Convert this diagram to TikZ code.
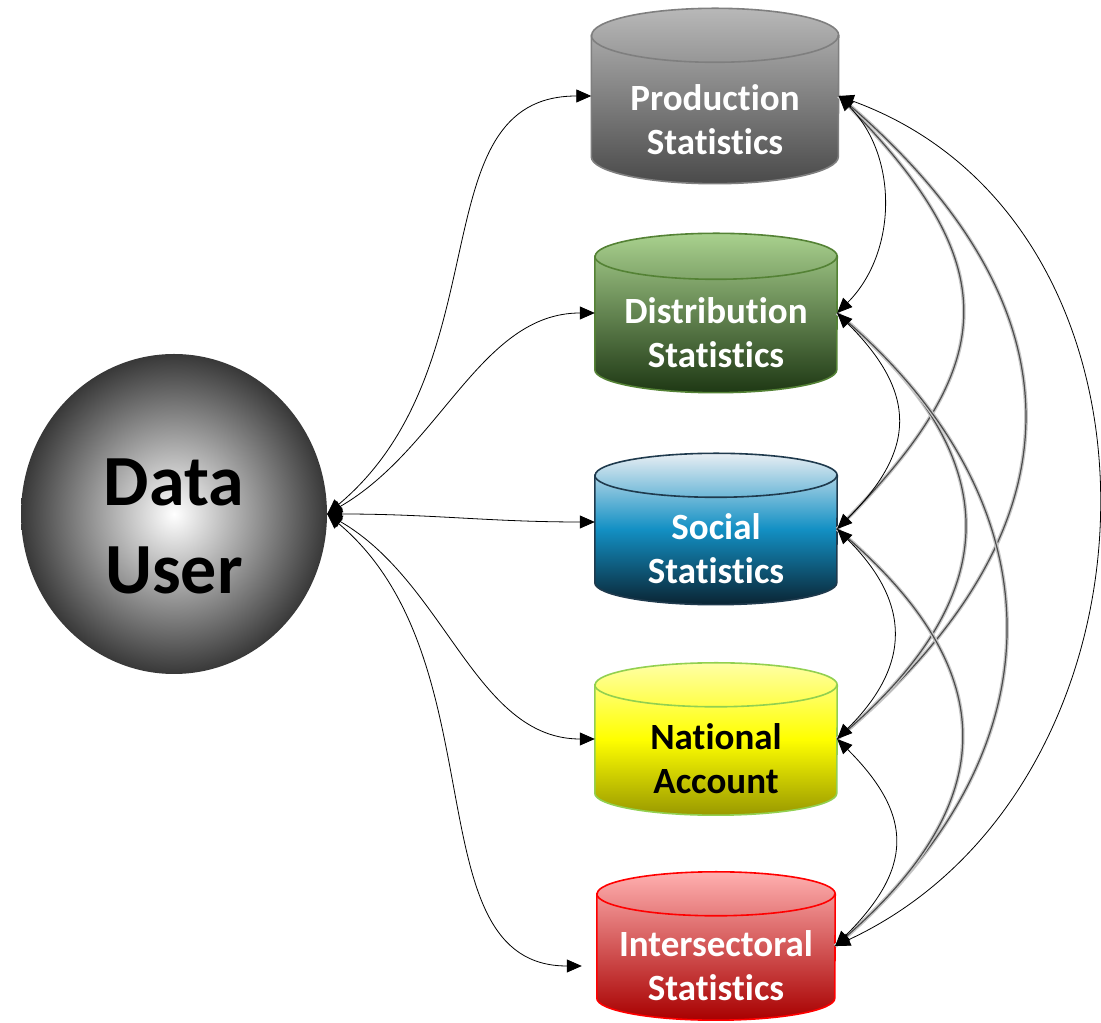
\documentclass[tikz,border=0pt]{standalone}
\usepackage{fontspec}
\setmainfont{Carlito}[Ligatures=CommonOff]
\usetikzlibrary{shapes.geometric,arrows.meta}

\definecolor{prodtop}{HTML}{B8B8B8}
\definecolor{prodbot}{HTML}{4A4A4A}
\definecolor{prodline}{HTML}{7F7F7F}
\definecolor{disttop}{HTML}{A9D18E}
\definecolor{distbot}{HTML}{1E3814}
\definecolor{distline}{HTML}{548235}
\definecolor{soctop}{HTML}{E8EEF3}
\definecolor{socmid}{HTML}{1390C4}
\definecolor{socbot}{HTML}{0A2433}
\definecolor{socline}{HTML}{1F3A4D}
\definecolor{nattop}{HTML}{FFFFA6}
\definecolor{natmid}{HTML}{FFFF00}
\definecolor{natbot}{HTML}{999900}
\definecolor{natline}{HTML}{92D050}
\definecolor{intertop}{HTML}{FFB0B0}
\definecolor{interbot}{HTML}{A80000}
\definecolor{interline}{HTML}{FF0000}

% #1 node, #2 x radius, #3 y radius, #4 shading, #5 line colour
\newcommand{\dbdraw}[5]{%
  \shade[#4,draw=#5,line width=1.6pt] ([yshift=-#3]#1.north west) -- ([yshift=#3]#1.south west)
    arc[start angle=180,end angle=360,x radius=#2,y radius=#3]
    -- ([yshift=-#3]#1.north east)
    arc[start angle=0,end angle=180,x radius=#2,y radius=#3] -- cycle;
  \draw[draw=#5,line width=1.6pt] ([yshift=-#3]#1.north west)
    arc[start angle=180,end angle=360,x radius=#2,y radius=#3];
}

\begin{document}
\begin{tikzpicture}[x=1pt,y=1pt,
    db/.style={rectangle,inner sep=0pt,minimum width=242},
    dbtext/.style={font=\bfseries\fontsize{37}{44}\selectfont,align=center,text=white},
    link/.style={draw,line width=0.8pt,<->,>={Triangle[length=15pt,width=13pt]}},
    faint/.style={draw=black!70,line width=1.2pt,preaction={draw=black!22,line width=3.8pt}}]

        \useasboundingbox (0,0) rectangle (1101,1023);

        \node[ellipse,minimum width=306,minimum height=320,inner color=white,outer color=black!78] (user) at (174,509) {};
        \node[font=\bfseries\fontsize{72}{88}\selectfont,align=center] (user-t) at ([yshift=-12]user.center) {Data\\User};

        \begin{scope}[every node/.style={db}]
          \node[minimum height=175,minimum width=247] (prod) at (715,927) {};
          \node[minimum height=159] (dist) at (716,710) {};
          \node[minimum height=151] (soc) at (716,494) {};
          \node[minimum height=152] (nat) at (716,284) {};
          \node[minimum height=148,minimum width=238] (inter) at (716,77) {};
        \end{scope}

        \dbdraw{prod}{123.5}{27}{top color=prodtop,bottom color=prodbot}{prodline}
        \dbdraw{dist}{121}{23}{top color=disttop,bottom color=distbot}{distline}
        \dbdraw{soc}{121}{22}{top color=soctop,bottom color=socbot,middle color=socmid}{socline}
        \dbdraw{nat}{121}{22}{top color=nattop,bottom color=natbot,middle color=natmid}{natline}
        \dbdraw{inter}{119}{22}{top color=intertop,bottom color=interbot}{interline}

        \begin{scope}[every node/.style={dbtext}]
          \node (prod-t)  at ([yshift=-24]prod.center)  {Production\\Statistics};
          \node (dist-t)  at ([yshift=-20]dist.center)  {Distribution\\Statistics};
          \node (soc-t)   at ([yshift=-20]soc.center)   {Social\\Statistics};
          \node[text=black] (nat-t) at ([yshift=-20]nat.center) {National\\Account};
          \node (inter-t) at ([yshift=-20]inter.center) {Intersectoral\\Statistics};
        \end{scope}

        \begin{scope}[every edge/.style={faint}]
          \path (soc.east)   edge[out=45,in=-45,looseness=1.4]  (prod.east);
          \path (nat.east)   edge[out=40,in=-40,looseness=1.3]  (prod.east);
          \path (nat.east)   edge[out=40,in=-40,looseness=1.35] (dist.east);
          \path (inter.east) edge[out=40,in=-40,looseness=1.2]  (dist.east);
          \path (inter.east) edge[out=40,in=-40,looseness=1.35] (soc.east);
        \end{scope}

        \begin{scope}[every edge/.style={link}]
          \path (user.east) edge[out=40,in=180,out looseness=1.2,in looseness=0.9] (prod.west);
          \path (user.east) edge[out=30,in=180,in looseness=0.87] (dist.west);
          \path (user.east) edge[out=0,in=180] ([yshift=7]soc.west);
          \path (user.east) edge[out=-30,in=180,in looseness=0.87] (nat.west);
          \path (user.east) edge[out=-40,in=180,out looseness=1.1,in looseness=0.9,shorten >=15pt] ([yshift=-20]inter.west);

          \path (dist.east)  edge[out=45,in=-45,looseness=1.0]  (prod.east);
          \path (soc.east)   edge[out=45,in=-45,looseness=1.34] (dist.east);
          \path (nat.east)   edge[out=45,in=-45,looseness=1.28] (soc.east);
          \path (inter.east) edge[out=45,in=-45,looseness=1.35] (nat.east);
          \path (inter.east) edge[out=25,in=-20,looseness=1.13] (prod.east);
        \end{scope}

      \end{tikzpicture}
\end{document}
